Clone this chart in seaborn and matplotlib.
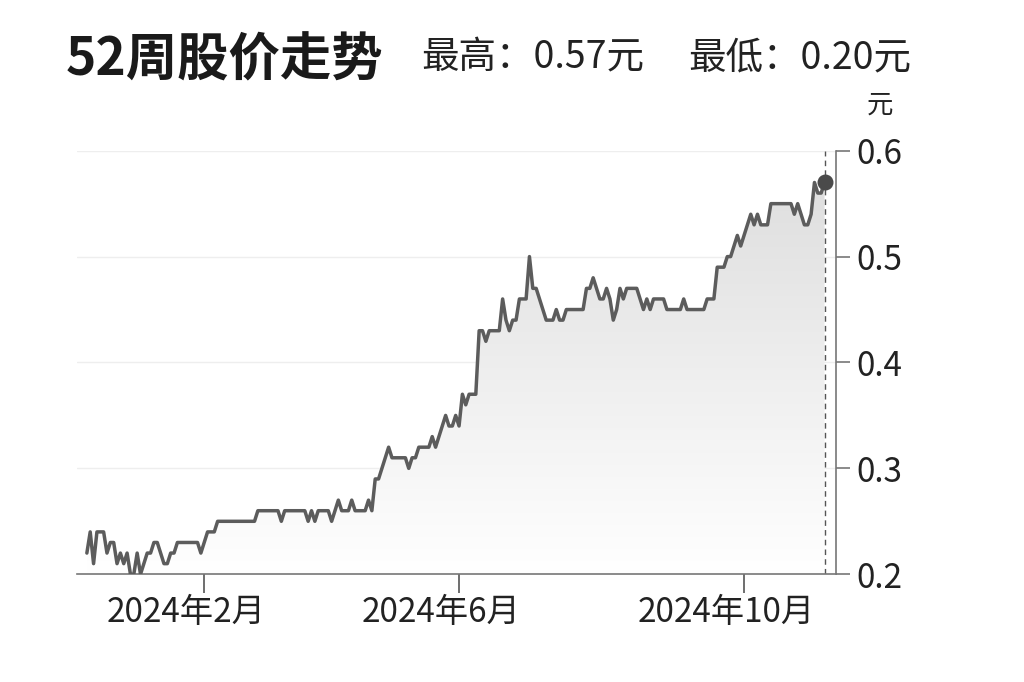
import matplotlib
matplotlib.use('Agg')
import matplotlib.pyplot as plt
import matplotlib.transforms as mtransforms
import numpy as np
import pandas as pd
import seaborn as sns
from matplotlib.colors import LinearSegmentedColormap

# daily closing price (yuan), one value per trading day
prices = [
    0.22, 0.24, 0.21, 0.24, 0.24, 0.24, 0.22, 0.23, 0.23, 0.21,
    0.22, 0.21, 0.22, 0.20, 0.20, 0.22, 0.20, 0.21, 0.22, 0.22,
    0.23, 0.23, 0.22, 0.21, 0.21, 0.22, 0.22, 0.23, 0.23, 0.23,
    0.23, 0.23, 0.23, 0.23, 0.22, 0.23, 0.24, 0.24, 0.24, 0.25,
    0.25, 0.25, 0.25, 0.25, 0.25, 0.25, 0.25, 0.25, 0.25, 0.25,
    0.25, 0.26, 0.26, 0.26, 0.26, 0.26, 0.26, 0.26, 0.25, 0.26,
    0.26, 0.26, 0.26, 0.26, 0.26, 0.26, 0.25, 0.26, 0.25, 0.26,
    0.26, 0.26, 0.26, 0.25, 0.26, 0.27, 0.26, 0.26, 0.26, 0.27,
    0.26, 0.26, 0.26, 0.26, 0.27, 0.26, 0.29, 0.29, 0.30, 0.31,
    0.32, 0.31, 0.31, 0.31, 0.31, 0.31, 0.30, 0.31, 0.31, 0.32,
    0.32, 0.32, 0.32, 0.33, 0.32, 0.33, 0.34, 0.35, 0.34, 0.34,
    0.35, 0.34, 0.37, 0.36, 0.37, 0.37, 0.37, 0.43, 0.43, 0.42,
    0.43, 0.43, 0.43, 0.43, 0.46, 0.44, 0.43, 0.44, 0.44, 0.46,
    0.46, 0.46, 0.50, 0.47, 0.47, 0.46, 0.45, 0.44, 0.44, 0.44,
    0.45, 0.44, 0.44, 0.45, 0.45, 0.45, 0.45, 0.45, 0.45, 0.47,
    0.47, 0.48, 0.47, 0.46, 0.46, 0.47, 0.46, 0.44, 0.45, 0.47,
    0.46, 0.47, 0.47, 0.47, 0.47, 0.46, 0.45, 0.46, 0.45, 0.46,
    0.46, 0.46, 0.46, 0.45, 0.45, 0.45, 0.45, 0.45, 0.46, 0.45,
    0.45, 0.45, 0.45, 0.45, 0.45, 0.46, 0.46, 0.46, 0.49, 0.49,
    0.49, 0.50, 0.50, 0.51, 0.52, 0.51, 0.52, 0.53, 0.54, 0.53,
    0.54, 0.53, 0.53, 0.53, 0.55, 0.55, 0.55, 0.55, 0.55, 0.55,
    0.55, 0.54, 0.55, 0.54, 0.53, 0.53, 0.54, 0.57, 0.56, 0.56,
    0.57,
]
# trading-day index of the first session in each labelled month
month_days = [35, 111, 196]
month_labels = ['2024年2月', '2024年6月', '2024年10月']
y_ticks = [0.2, 0.3, 0.4, 0.5, 0.6]
y_labels = ['0.2', '0.3', '0.4', '0.5', '0.6']

df = pd.DataFrame({'day': range(len(prices)), 'price': prices})
last_day = df['day'].iloc[-1]
last_price = df['price'].iloc[-1]

sns.set_style('white')
plt.rcParams['font.family'] = ['Noto Sans CJK SC', 'DejaVu Sans']

fig = plt.figure(figsize=(10.24, 6.82), dpi=100)
ax = fig.add_axes([0.075, 0.158, 0.741, 0.621])

# gradient fill under the line
poly = ax.fill_between(df['day'], df['price'], 0.2, color='none', lw=0)
grad = np.linspace(1, 0, 256).reshape(-1, 1)
cmap = LinearSegmentedColormap.from_list('fade', ['#ffffff', '#dcdcdc'])
im = ax.imshow(grad, extent=[0, last_day, 0.2, 0.6], aspect='auto',
               cmap=cmap, origin='upper', zorder=1)
im.set_clip_path(poly.get_paths()[0], transform=ax.transData)

sns.lineplot(data=df, x='day', y='price', color='#5c5c5c', lw=2.5, ax=ax, zorder=3)
ax.axvline(last_day, color='#555555', ls=(0, (4, 3)), lw=1, zorder=2)
ax.scatter([last_day], [last_price], s=110, color='#4a4a4a', zorder=5)

ax.set_xlim(-3, 223.3)
ax.set_ylim(0.2, 0.6)
ax.yaxis.grid(True, color='#eeeeee', lw=1)
ax.set_axisbelow(True)

for s in ['left', 'top']:
    ax.spines[s].set_visible(False)
for s in ['right', 'bottom']:
    ax.spines[s].set_color('#777777')
    ax.spines[s].set_linewidth(1.2)

ax.yaxis.tick_right()
ax.set_yticks(y_ticks)
ax.set_yticklabels(y_labels, fontsize=24, color='#222222')
ax.tick_params(axis='y', right=True, length=10, width=1.2, color='#777777', pad=5)
ax.set_xticks(month_days)
ax.set_xticklabels(month_labels, fontsize=24, color='#222222')
ax.tick_params(axis='x', bottom=True, length=14, width=1.2, color='#555555', pad=1)
# month labels sit a little left of their tick marks
shift = mtransforms.ScaledTranslation(-0.18, 0, fig.dpi_scale_trans)
for lab in ax.get_xticklabels():
    lab.set_transform(lab.get_transform() + shift)
ax.set_xlabel('')
ax.set_ylabel('')

fig.text(66 / 1024, 1 - 60 / 682, '52周股价走势', fontsize=37, fontweight='black',
         color='#1a1a1a', va='center', ha='left')
fig.text(421 / 1024, 1 - 58 / 682, '最高：0.57元', fontsize=27, color='#222222',
         va='center', ha='left')
fig.text(688 / 1024, 1 - 58 / 682, '最低：0.20元', fontsize=27, color='#222222',
         va='center', ha='left')
fig.text(880 / 1024, 1 - 105 / 682, '元', fontsize=19, color='#222222',
         va='center', ha='center')

fig.savefig('out.png', dpi=100, facecolor='white')
